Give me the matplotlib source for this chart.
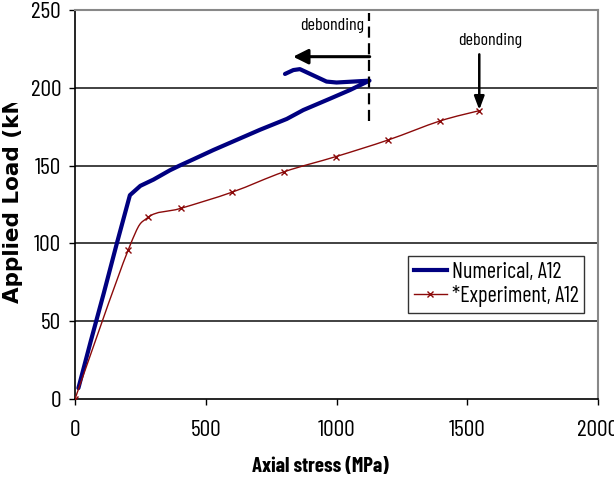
import numpy as np
import matplotlib
matplotlib.use("Agg")
import matplotlib.pyplot as plt
from matplotlib.path import Path
from matplotlib.patches import PathPatch
from matplotlib.lines import Line2D
from matplotlib.transforms import Bbox

# data
num_x = [13, 60, 110, 160, 210, 250, 300, 363, 400, 452, 529, 618, 707, 810,
         873, 975, 1052, 1126, 1000, 962, 911, 860, 835, 803]
num_y = [7, 37, 68, 100, 131, 137, 141, 147, 150, 154, 160, 166.5, 173, 180,
         185.7, 193, 198.6, 204.6, 203.4, 204, 208, 212, 211.4, 208.9]

exp_x = [0, 204, 280, 404, 602, 799, 998, 1198, 1396, 1546]
exp_y = [0, 96, 116.8, 122.5, 133, 146, 155.8, 166.5, 178.7, 185.3]

x_ticks = [0, 500, 1000, 1500, 2000]
y_ticks = [0, 50, 100, 150, 200, 250]
labels = ["Numerical, A12", "*Experiment, A12"]

narrow = ["Barlow Condensed", "Archivo Narrow", "Liberation Sans",
          "DejaVu Sans"]
plt.rcParams["font.family"] = narrow

W, H = 614, 486
fig = plt.figure(figsize=(W / 100, H / 100), dpi=100)
ax = fig.add_axes([75 / W, 1 - 399 / H, 523 / W, 389 / H])

blue = "#000080"
red = "#8b0a0a"


# smoothed line like excel: catmull-rom turned into cubic bezier
def smooth_path(xs, ys):
    pts = np.column_stack([xs, ys]).astype(float)
    n = len(pts)
    verts = [pts[0]]
    codes = [Path.MOVETO]
    for i in range(n - 1):
        p0 = pts[max(i - 1, 0)]
        p1 = pts[i]
        p2 = pts[i + 1]
        p3 = pts[min(i + 2, n - 1)]
        verts += [p1 + (p2 - p0) / 6, p2 - (p3 - p1) / 6, p2]
        codes += [Path.CURVE4] * 3
    return Path(verts, codes)


for yv in [50, 100, 150, 200]:
    ax.axhline(yv, color="#333333", lw=1.3, zorder=1)

ax.plot(num_x, num_y, color=blue, lw=3.0, solid_capstyle="round",
        solid_joinstyle="round", zorder=3)

ax.add_patch(PathPatch(smooth_path(exp_x, exp_y), fill=False,
                       edgecolor=red, lw=1.0, zorder=4))
ax.plot(exp_x, exp_y, ls="none", marker="x", ms=5, mew=1.0, color=red,
        zorder=5)

# debonding marks
ax.plot([1126, 1126], [178.5, 248], color="black", lw=1.6,
        ls=(0, (5, 2.5)), zorder=6)
ax.annotate("", xy=(834, 220), xytext=(1127, 220),
            arrowprops=dict(arrowstyle="-|>,head_length=0.9,head_width=0.45",
                            lw=2.2, color="black", shrinkA=0, shrinkB=0))
ax.text(983, 240, "debonding", fontsize=13, ha="center", va="center")
ax.annotate("", xy=(1546, 185.8), xytext=(1546, 221.5),
            arrowprops=dict(arrowstyle="-|>,head_length=0.8,head_width=0.3",
                            lw=1.8, color="black", shrinkA=0, shrinkB=0))
ax.text(1587, 230.5, "debonding", fontsize=13, ha="center", va="center")

ax.set_xlim(0, 2000)
ax.set_ylim(0, 250)
ax.set_xticks(x_ticks)
ax.set_yticks(y_ticks)
ax.tick_params(axis="x", direction="out", length=4, width=1, pad=11,
               labelsize=17)
ax.tick_params(axis="y", direction="out", length=4, width=1, pad=6,
               labelsize=17)
for s in ["left", "bottom"]:
    ax.spines[s].set_color("black")
    ax.spines[s].set_linewidth(1.2)
for s in ["top", "right"]:
    ax.spines[s].set_color("#888888")
    ax.spines[s].set_linewidth(1.5)

handles = [Line2D([], [], color=blue, lw=3.0),
           Line2D([], [], color=red, lw=1.0, marker="x", ms=4, mew=1.0)]
leg = ax.legend(handles, labels, loc="center", bbox_to_anchor=(0.805, 0.2945),
                fontsize=16, frameon=True, fancybox=False, handlelength=1.5,
                handletextpad=0.2, borderpad=0.25, labelspacing=0.1,
                borderaxespad=0)
leg.get_frame().set_edgecolor("black")
leg.get_frame().set_linewidth(1.0)

fig.text(320 / W, 20 / H, "Axial stress (MPa)", fontsize=15,
         fontweight="bold", ha="center", va="center")

ylab = fig.text(13 / W, (H - 303) / H, "Applied Load (kN)", rotation=90,
                fontsize=15.5, fontweight="bold", ha="center", va="bottom",
                family=["DejaVu Sans"])
ylab.set_clip_box(Bbox.from_extents(0, 0, W, H - 103))
ylab.set_clip_on(True)

fig.savefig("out.png", dpi=100)
